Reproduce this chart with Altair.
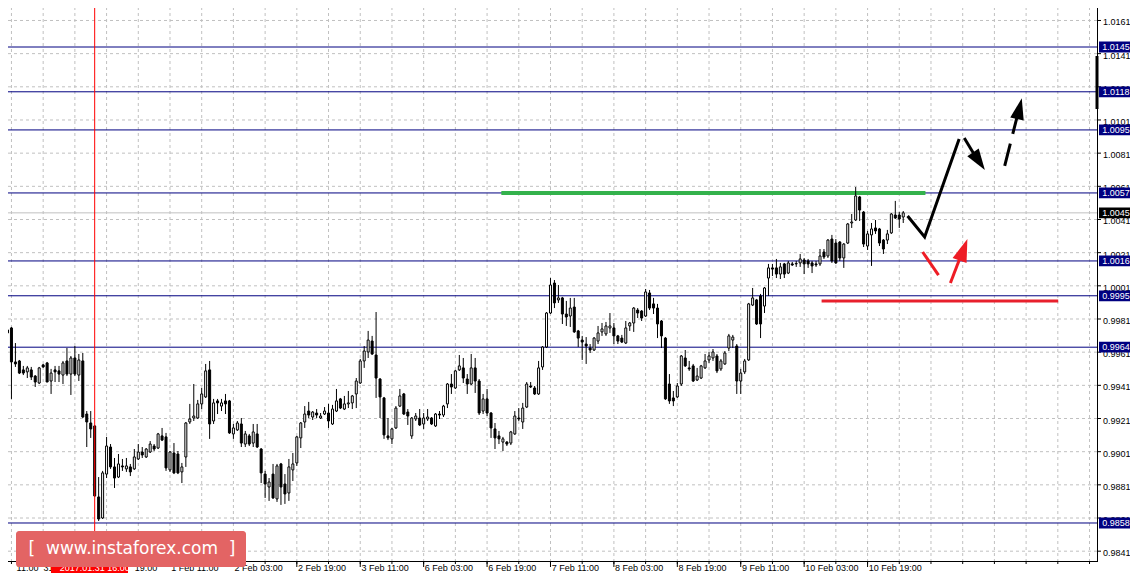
import altair as alt
import pandas as pd

# ---------------- data (H1 candles) ----------------
opens = [
    0.99726, 0.99756, 0.99551, 0.99557, 0.99503, 0.99491, 0.99503, 0.99466, 0.99424, 0.99533,
    0.99545, 0.99436, 0.99503, 0.99497, 0.99472, 0.99557, 0.99478, 0.99575, 0.99472, 0.99557,
    0.99237, 0.99183, 0.99165, 0.98737, 0.98610, 0.98875, 0.99038, 0.98918, 0.98857, 0.98924,
    0.98906, 0.98918, 0.98906, 0.98966, 0.99008, 0.98978, 0.99008, 0.99044, 0.99032, 0.99105,
    0.99099, 0.98900, 0.99002, 0.98996, 0.98888, 0.98978, 0.99189, 0.99213, 0.99213, 0.99298,
    0.99340, 0.99503, 0.99195, 0.99316, 0.99285, 0.99316, 0.99316, 0.99117, 0.99141, 0.99177,
    0.99056, 0.99105, 0.99062, 0.99117, 0.99026, 0.98875, 0.98797, 0.98875, 0.98725, 0.98936,
    0.98815, 0.98761, 0.98900, 0.98942, 0.99093, 0.99189, 0.99255, 0.99219, 0.99243, 0.99213,
    0.99237, 0.99243, 0.99177, 0.99255, 0.99328, 0.99267, 0.99298, 0.99304, 0.99358, 0.99424,
    0.99557, 0.99611, 0.99677, 0.99593, 0.99448, 0.99334, 0.99105, 0.99087, 0.99153, 0.99285,
    0.99358, 0.99249, 0.99105, 0.99207, 0.99213, 0.99177, 0.99207, 0.99213, 0.99165, 0.99237,
    0.99231, 0.99298, 0.99418, 0.99394, 0.99503, 0.99515, 0.99448, 0.99418, 0.99515, 0.99436,
    0.99255, 0.99328, 0.99243, 0.99147, 0.99105, 0.99068, 0.99068, 0.99062, 0.99117, 0.99213,
    0.99189, 0.99279, 0.99406, 0.99394, 0.99358, 0.99521, 0.99641, 0.99846, 1.00027, 0.99925,
    0.99937, 0.99840, 0.99828, 0.99882, 0.99738, 0.99683, 0.99659, 0.99635, 0.99623, 0.99677,
    0.99732, 0.99720, 0.99756, 0.99756, 0.99708, 0.99695, 0.99665, 0.99768, 0.99786, 0.99864,
    0.99858, 0.99828, 0.99967, 0.99901, 0.99876, 0.99798, 0.99695, 0.99418, 0.99334, 0.99340,
    0.99418, 0.99575, 0.99515, 0.99527, 0.99442, 0.99454, 0.99515, 0.99563, 0.99575, 0.99587,
    0.99509, 0.99539, 0.99635, 0.99683, 0.99647, 0.99436, 0.99491, 0.99563, 0.99894, 0.99925,
    0.99949, 0.99888, 1.00057, 1.00118, 1.00118, 1.00081, 1.00142, 1.00087, 1.00142, 1.00142,
    1.00148, 1.00166, 1.00160, 1.00148, 1.00142, 1.00142, 1.00214, 1.00190, 1.00292, 1.00268,
    1.00274, 1.00178, 1.00268, 1.00389, 1.00407, 1.00546, 1.00455, 1.00250, 1.00317, 1.00359,
    1.00353, 1.00286, 1.00286, 1.00329, 1.00437, 1.00437, 1.00425,
]
highs = [
    0.99756, 0.99762, 0.99665, 0.99563, 0.99527, 0.99527, 0.99521, 0.99472, 0.99521, 0.99539,
    0.99551, 0.99509, 0.99527, 0.99527, 0.99557, 0.99635, 0.99587, 0.99647, 0.99599, 0.99605,
    0.99255, 0.99255, 0.99171, 0.98857, 0.98894, 0.99099, 0.99056, 0.98972, 0.98996, 0.98966,
    0.98972, 0.98936, 0.99026, 0.99056, 0.99038, 0.99032, 0.99074, 0.99056, 0.99123, 0.99153,
    0.99123, 0.99014, 0.99062, 0.99014, 0.98942, 0.99189, 0.99298, 0.99418, 0.99322, 0.99394,
    0.99539, 0.99557, 0.99328, 0.99328, 0.99328, 0.99358, 0.99322, 0.99177, 0.99195, 0.99213,
    0.99135, 0.99117, 0.99177, 0.99177, 0.99032, 0.98894, 0.98851, 0.98936, 0.98936, 0.98942,
    0.98875, 0.98966, 0.99002, 0.99105, 0.99189, 0.99285, 0.99310, 0.99255, 0.99267, 0.99243,
    0.99279, 0.99298, 0.99292, 0.99388, 0.99334, 0.99346, 0.99376, 0.99352, 0.99454, 0.99569,
    0.99647, 0.99738, 0.99708, 0.99852, 0.99454, 0.99340, 0.99213, 0.99153, 0.99285, 0.99388,
    0.99364, 0.99267, 0.99219, 0.99243, 0.99267, 0.99243, 0.99267, 0.99219, 0.99243, 0.99255,
    0.99292, 0.99424, 0.99478, 0.99503, 0.99593, 0.99575, 0.99478, 0.99599, 0.99575, 0.99448,
    0.99358, 0.99388, 0.99249, 0.99183, 0.99135, 0.99099, 0.99074, 0.99135, 0.99255, 0.99273,
    0.99304, 0.99430, 0.99430, 0.99406, 0.99557, 0.99647, 0.99852, 1.00057, 1.00045, 1.00015,
    0.99943, 0.99919, 0.99937, 0.99937, 0.99744, 0.99708, 0.99701, 0.99659, 0.99701, 0.99768,
    0.99786, 0.99792, 0.99846, 0.99786, 0.99714, 0.99714, 0.99798, 0.99792, 0.99882, 0.99876,
    0.99864, 0.99991, 0.99985, 0.99937, 0.99901, 0.99804, 0.99701, 0.99478, 0.99376, 0.99424,
    0.99593, 0.99623, 0.99557, 0.99539, 0.99515, 0.99533, 0.99599, 0.99611, 0.99629, 0.99599,
    0.99569, 0.99617, 0.99720, 0.99714, 0.99659, 0.99509, 0.99569, 0.99907, 0.99997, 0.99931,
    0.99961, 1.00003, 1.00142, 1.00142, 1.00172, 1.00148, 1.00148, 1.00160, 1.00154, 1.00160,
    1.00202, 1.00178, 1.00172, 1.00160, 1.00160, 1.00232, 1.00232, 1.00292, 1.00317, 1.00292,
    1.00280, 1.00268, 1.00389, 1.00443, 1.00606, 1.00552, 1.00461, 1.00341, 1.00389, 1.00407,
    1.00359, 1.00292, 1.00347, 1.00449, 1.00522, 1.00455, 1.00461,
]
lows = [
    0.99617, 0.99328, 0.99521, 0.99478, 0.99472, 0.99454, 0.99442, 0.99400, 0.99418, 0.99515,
    0.99430, 0.99358, 0.99430, 0.99430, 0.99418, 0.99466, 0.99352, 0.99466, 0.99436, 0.99213,
    0.99038, 0.99093, 0.98737, 0.98592, 0.98604, 0.98851, 0.98906, 0.98791, 0.98851, 0.98894,
    0.98888, 0.98863, 0.98900, 0.98960, 0.98972, 0.98972, 0.99002, 0.99014, 0.99026, 0.99074,
    0.98894, 0.98888, 0.98875, 0.98875, 0.98821, 0.98918, 0.99177, 0.99195, 0.99207, 0.99267,
    0.99334, 0.99087, 0.99177, 0.99237, 0.99255, 0.99237, 0.99117, 0.99087, 0.99135, 0.99038,
    0.99038, 0.99044, 0.99038, 0.99032, 0.98821, 0.98731, 0.98713, 0.98725, 0.98707, 0.98689,
    0.98695, 0.98713, 0.98833, 0.98924, 0.99032, 0.99153, 0.99213, 0.99201, 0.99213, 0.99207,
    0.99231, 0.99153, 0.99171, 0.99249, 0.99267, 0.99261, 0.99273, 0.99267, 0.99273, 0.99418,
    0.99515, 0.99575, 0.99593, 0.99334, 0.99213, 0.99087, 0.99080, 0.99056, 0.99147, 0.99279,
    0.99231, 0.99171, 0.99087, 0.99195, 0.99165, 0.99147, 0.99195, 0.99171, 0.99159, 0.99207,
    0.99219, 0.99273, 0.99358, 0.99388, 0.99497, 0.99424, 0.99358, 0.99412, 0.99364, 0.99231,
    0.99237, 0.99225, 0.99093, 0.99026, 0.99056, 0.99014, 0.99044, 0.99050, 0.99111, 0.99195,
    0.99147, 0.99273, 0.99394, 0.99352, 0.99352, 0.99503, 0.99635, 0.99840, 0.99876, 0.99907,
    0.99780, 0.99768, 0.99762, 0.99726, 0.99641, 0.99563, 0.99539, 0.99605, 0.99617, 0.99659,
    0.99708, 0.99708, 0.99726, 0.99659, 0.99659, 0.99665, 0.99659, 0.99738, 0.99732, 0.99816,
    0.99798, 0.99822, 0.99864, 0.99840, 0.99695, 0.99635, 0.99322, 0.99298, 0.99285, 0.99334,
    0.99406, 0.99521, 0.99497, 0.99430, 0.99436, 0.99448, 0.99509, 0.99545, 0.99557, 0.99484,
    0.99497, 0.99533, 0.99617, 0.99635, 0.99358, 0.99358, 0.99478, 0.99557, 0.99888, 0.99774,
    0.99695, 0.99846, 0.99949, 1.00069, 1.00057, 1.00051, 1.00057, 1.00081, 1.00130, 1.00124,
    1.00124, 1.00081, 1.00118, 1.00087, 1.00124, 1.00130, 1.00172, 1.00178, 1.00148, 1.00142,
    1.00160, 1.00118, 1.00262, 1.00359, 1.00401, 1.00401, 1.00244, 1.00226, 1.00130, 1.00323,
    1.00250, 1.00202, 1.00262, 1.00323, 1.00413, 1.00359, 1.00389,
]
closes = [
    0.99744, 0.99551, 0.99539, 0.99484, 0.99484, 0.99515, 0.99460, 0.99430, 0.99515, 0.99521,
    0.99430, 0.99484, 0.99491, 0.99478, 0.99545, 0.99478, 0.99575, 0.99478, 0.99563, 0.99219,
    0.99189, 0.99147, 0.98743, 0.98604, 0.98882, 0.99044, 0.98918, 0.98851, 0.98936, 0.98918,
    0.98924, 0.98888, 0.98978, 0.99008, 0.98990, 0.99026, 0.99056, 0.99026, 0.99117, 0.99080,
    0.98912, 0.99008, 0.98882, 0.98882, 0.98918, 0.99183, 0.99207, 0.99225, 0.99298, 0.99358,
    0.99497, 0.99177, 0.99304, 0.99304, 0.99304, 0.99298, 0.99123, 0.99153, 0.99183, 0.99062,
    0.99117, 0.99056, 0.99129, 0.99038, 0.98882, 0.98815, 0.98827, 0.98731, 0.98924, 0.98797,
    0.98755, 0.98918, 0.98936, 0.99099, 0.99183, 0.99237, 0.99231, 0.99249, 0.99231, 0.99225,
    0.99255, 0.99195, 0.99267, 0.99316, 0.99273, 0.99298, 0.99304, 0.99346, 0.99436, 0.99557,
    0.99617, 0.99683, 0.99599, 0.99454, 0.99340, 0.99111, 0.99093, 0.99147, 0.99273, 0.99346,
    0.99237, 0.99225, 0.99213, 0.99225, 0.99171, 0.99213, 0.99219, 0.99177, 0.99237, 0.99231,
    0.99285, 0.99418, 0.99400, 0.99497, 0.99527, 0.99454, 0.99418, 0.99515, 0.99436, 0.99243,
    0.99328, 0.99243, 0.99153, 0.99093, 0.99087, 0.99087, 0.99056, 0.99129, 0.99225, 0.99207,
    0.99273, 0.99418, 0.99400, 0.99358, 0.99515, 0.99641, 0.99846, 1.00015, 0.99907, 0.99937,
    0.99840, 0.99822, 0.99876, 0.99732, 0.99695, 0.99671, 0.99647, 0.99623, 0.99695, 0.99726,
    0.99750, 0.99768, 0.99768, 0.99708, 0.99677, 0.99671, 0.99756, 0.99786, 0.99876, 0.99846,
    0.99816, 0.99973, 0.99876, 0.99876, 0.99780, 0.99708, 0.99328, 0.99316, 0.99316, 0.99406,
    0.99587, 0.99527, 0.99509, 0.99436, 0.99466, 0.99527, 0.99557, 0.99587, 0.99611, 0.99497,
    0.99557, 0.99605, 0.99708, 0.99701, 0.99436, 0.99484, 0.99557, 0.99901, 0.99937, 0.99780,
    0.99780, 0.99997, 1.00118, 1.00111, 1.00081, 1.00124, 1.00081, 1.00148, 1.00136, 1.00145,
    1.00172, 1.00142, 1.00142, 1.00130, 1.00136, 1.00190, 1.00184, 1.00286, 1.00160, 1.00148,
    1.00178, 1.00262, 1.00383, 1.00395, 1.00552, 1.00467, 1.00262, 1.00323, 1.00353, 1.00341,
    1.00268, 1.00232, 1.00323, 1.00443, 1.00419, 1.00413, 1.00450,
]

# horizontal levels (navy lines with price boxes)
level_prices = [1.0145, 1.0118, 1.0095, 1.0057, 1.0016, 0.9995, 0.9964, 0.9858]
bid_price = [1.0045]

# price scale labels
price_ticks = [1.0161, 1.0141, 1.0121, 1.0101, 1.0081, 1.0061, 1.0041, 1.0021, 1.0001,
               0.9981, 0.9961, 0.9941, 0.9921, 0.9901, 0.9881, 0.9861, 0.9841]

# time scale: bar index of each label's visible start, and its text
time_label_bar = [1.8, 8.6, 31.6, 40.8, 56.8, 72.8, 88.8, 104.8, 120.8, 136.8, 152.8,
                  168.8, 184.8, 200.8, 216.8]
time_label_text = ["11:00", "31", "19:00", "1 Feb 11:00", "2 Feb 03:00", "2 Feb 19:00",
                   "3 Feb 11:00", "6 Feb 03:00", "6 Feb 19:00", "7 Feb 11:00", "8 Feb 03:00",
                   "8 Feb 19:00", "9 Feb 11:00", "10 Feb 03:00", "10 Feb 19:00"]
major_tick_bar = [9, 25, 41, 57, 73, 89, 105, 121, 137, 153, 169, 185, 201, 217]
grid_bars = [1 + 8 * m for m in range(35)]

crosshair_bar = [22]
crosshair_text = ["2017.01.31 16:00"]

# drawn analysis lines
green_bar = [124.6, 231.6]
green_price = 1.0057
red_bar = [205.4, 265.1]
red_price = 0.99919

black_path_bar = [227.1, 231.4, 240.1]
black_path_price = [1.00431, 1.00304, 1.00895]
black_arrow_bar = [241.4, 244.6]
black_arrow_price = [1.00901, 1.00775]
dash_arrow_bar = [251.6, 254.9]
dash_arrow_price = [1.00733, 1.01046]
red_path_bar = [230.9, 234.9]
red_path_price = [1.00214, 1.00075]
red_arrow_bar = [237.9, 240.9]
red_arrow_price = [1.00027, 1.00214]
head_bar = [245.1, 255.3]
head_price = [1.00762, 1.01078]
head_angle = [146, 13]
red_head_bar = [241.2]
red_head_price = [1.00227]
red_head_angle = [20]

scroll_bar_price = [1.01396, 1.01076]

# ---------------- build ----------------
n = min(len(opens), len(highs), len(lows), len(closes))
candles = pd.DataFrame({"k": list(range(n)), "o": opens[:n], "h": highs[:n],
                        "l": lows[:n], "c": closes[:n]})

FONT = "Liberation Sans"
FS = 9
NAVY = "#000080"
GRID = "#c0c0c0"
W, H = 1096, 560
LBL_Y = 567
XS = alt.Scale(domain=[-0.375, 273.625], nice=False, zero=False)
YS = alt.Scale(domain=[0.983508, 1.017274], nice=False, zero=False)


def X(f):
    return alt.X(f, type="quantitative", scale=XS, axis=None)


def Y(f):
    return alt.Y(f, type="quantitative", scale=YS, axis=None)


one = pd.DataFrame({"z": [0]})
ticks_df = pd.DataFrame({"p": price_ticks, "t": [f"{v:.4f}" for v in price_ticks]})
grid_df = pd.DataFrame({"k": grid_bars})

grid_y = alt.Chart(ticks_df).mark_rule(color=GRID, strokeDash=[3, 3], strokeWidth=1).encode(
    y=Y("p"))
grid_x = alt.Chart(grid_df).mark_rule(color=GRID, strokeDash=[3, 3], strokeWidth=1).encode(
    x=X("k"))

levels_df = pd.DataFrame({"p": level_prices, "t": [f"{v:.4f}" for v in level_prices]})
bid_df = pd.DataFrame({"p": bid_price, "t": [f"{v:.4f}" for v in bid_price]})

level_lines = alt.Chart(levels_df).mark_rule(color=NAVY, strokeWidth=1).encode(y=Y("p"))
bid_line = alt.Chart(bid_df).mark_rule(color="#c0c0c0", strokeWidth=1).encode(y=Y("p"))

green_df = pd.DataFrame({"a": [green_bar[0]], "b": [green_bar[1]], "p": [green_price]})
red_df = pd.DataFrame({"a": [red_bar[0]], "b": [red_bar[1]], "p": [red_price]})
green_line = alt.Chart(green_df).mark_rule(color="#34b24c", strokeWidth=4).encode(
    x=X("a"), x2="b:Q", y=Y("p"))
red_line = alt.Chart(red_df).mark_rule(color="#e8202c", strokeWidth=3).encode(
    x=X("a"), x2="b:Q", y=Y("p"))

wicks = alt.Chart(candles).mark_rule(color="black", strokeWidth=1).encode(
    x=X("k"), y=Y("l"), y2="h:Q")
bodies = alt.Chart(candles).mark_bar(width=2, stroke="black", strokeWidth=1).encode(
    x=X("k"), y=Y("o"), y2="c:Q",
    fill=alt.condition("datum.c >= datum.o", alt.value("white"), alt.value("black")),
)

cross_df = pd.DataFrame({"k": crosshair_bar, "t": crosshair_text})
cross_line = alt.Chart(cross_df).mark_rule(color="#ff0000", strokeWidth=1).encode(x=X("k"))


def path_df(bars, prices, seg):
    return pd.DataFrame({"k": bars, "p": prices, "i": list(range(len(bars))), "s": seg})


black_paths = pd.concat([path_df(black_path_bar, black_path_price, "a"),
                         path_df(black_arrow_bar, black_arrow_price, "b")])
red_paths = pd.concat([path_df(red_path_bar, red_path_price, "a"),
                       path_df(red_arrow_bar, red_arrow_price, "b")])
dash_path = path_df(dash_arrow_bar, dash_arrow_price, "a")

black_lines = alt.Chart(black_paths).mark_line(color="black", strokeWidth=3).encode(
    x=X("k"), y=Y("p"), detail="s:N", order="i:Q")
red_lines = alt.Chart(red_paths).mark_line(color="#ee1c25", strokeWidth=3).encode(
    x=X("k"), y=Y("p"), detail="s:N", order="i:Q")
dash_line = alt.Chart(dash_path).mark_line(color="black", strokeWidth=3,
                                           strokeDash=[23, 10]).encode(
    x=X("k"), y=Y("p"), order="i:Q")

HEAD = "M0,-1L0.65,1L-0.65,1Z"
heads_df = pd.DataFrame({"k": head_bar, "p": head_price, "a": head_angle})
red_heads_df = pd.DataFrame({"k": red_head_bar, "p": red_head_price, "a": red_head_angle})
black_heads = alt.Chart(heads_df).mark_point(shape=HEAD, filled=True, color="black",
                                             size=450, opacity=1, strokeWidth=0).encode(
    x=X("k"), y=Y("p"), angle=alt.Angle("a:Q", scale=None))
red_heads = alt.Chart(red_heads_df).mark_point(shape=HEAD, filled=True, color="#ee1c25",
                                               size=520, opacity=1, strokeWidth=0).encode(
    x=X("k"), y=Y("p"), angle=alt.Angle("a:Q", scale=None))

# price scale (right) drawn as marks
y_domain = alt.Chart(one).mark_rule(color="black", strokeWidth=1).encode(
    x=alt.value(W + 0.5), y=alt.value(0), y2=alt.value(H))
y_ticks = alt.Chart(ticks_df).mark_rule(color="black", strokeWidth=1).encode(
    x=alt.value(W), x2=alt.value(W + 4), y=Y("p"))
y_labels = alt.Chart(ticks_df).mark_text(
    font=FONT, fontSize=FS, color="black", align="left", baseline="middle", dy=2).encode(
    x=alt.value(W + 6), y=Y("p"), text="t:N")

BOX = "M-1,-0.3L1,-0.3L1,0.3L-1,0.3Z"
BOX_X = 1116
level_boxes = alt.Chart(levels_df).mark_point(shape=BOX, filled=True, color=NAVY,
                                              size=1296, opacity=1, strokeWidth=0).encode(
    x=alt.value(BOX_X), y=Y("p"))
bid_box = alt.Chart(bid_df).mark_point(shape=BOX, filled=True, color="black",
                                       size=1296, opacity=1, strokeWidth=0).encode(
    x=alt.value(BOX_X), y=Y("p"))
box_text = alt.Chart(pd.concat([levels_df, bid_df])).mark_text(
    color="white", font=FONT, fontSize=FS, align="center", baseline="middle").encode(
    x=alt.value(BOX_X - 1), y=Y("p"), text="t:N")

scroll_df = pd.DataFrame({"a": [scroll_bar_price[0]], "b": [scroll_bar_price[1]]})
scroll = alt.Chart(scroll_df).mark_rule(color="black", strokeWidth=3).encode(
    x=alt.value(W), y=Y("a"), y2="b:Q")

# time scale (bottom) drawn as marks
x_domain = alt.Chart(one).mark_rule(color="black", strokeWidth=1).encode(
    x=alt.value(0), x2=alt.value(W + 1), y=alt.value(H + 0.5))
minor_ticks = alt.Chart(grid_df).mark_rule(color="black").encode(
    x=X("k"), y=alt.value(H), y2=alt.value(H + 3))
major_ticks = alt.Chart(pd.DataFrame({"k": major_tick_bar})).mark_rule(color="black").encode(
    x=X("k"), y=alt.value(H), y2=alt.value(H + 6))
time_df = pd.DataFrame({"k": time_label_bar, "t": time_label_text})
time_labels = alt.Chart(time_df).mark_text(
    font=FONT, fontSize=FS, color="black", align="left", baseline="middle", dx=2).encode(
    x=X("k"), y=alt.value(LBL_Y), text="t:N")

cross_box = alt.Chart(cross_df).mark_rect(color="#ff0000").encode(
    x=alt.value(50), x2=alt.value(127), y=alt.value(LBL_Y - 6), y2=alt.value(LBL_Y + 5))
cross_text = alt.Chart(cross_df).mark_text(
    font=FONT, fontSize=FS, color="white", align="center", baseline="middle").encode(
    x=X("k"), y=alt.value(LBL_Y), text="t:N")

wm_df = pd.DataFrame({"t": ["[\u00a0\u00a0www.instaforex.com\u00a0\u00a0]"]})
wm_box = alt.Chart(wm_df).mark_rect(color="#e36464", cornerRadius=3).encode(
    x=alt.value(15), x2=alt.value(245), y=alt.value(530), y2=alt.value(566))
wm_text = alt.Chart(wm_df).mark_text(
    font="DejaVu Sans", fontSize=17, color="white", align="center", baseline="middle").encode(
    x=alt.value(131), y=alt.value(548), text="t:N")

chart = alt.layer(
    grid_y, grid_x, level_lines, bid_line, green_line, red_line,
    wicks, bodies, cross_line,
    black_lines, dash_line, red_lines, black_heads, red_heads,
    y_domain, y_ticks, y_labels, level_boxes, bid_box, box_text, scroll,
    x_domain, minor_ticks, major_ticks, time_labels, cross_box, cross_text,
    wm_box, wm_text,
).properties(
    width=W, height=H,
    padding={"left": -8, "top": -8, "right": -5, "bottom": 0},
).configure(background="white").configure_view(stroke=None)

chart.save("out.html", embed_options={"renderer": "svg", "actions": False})
